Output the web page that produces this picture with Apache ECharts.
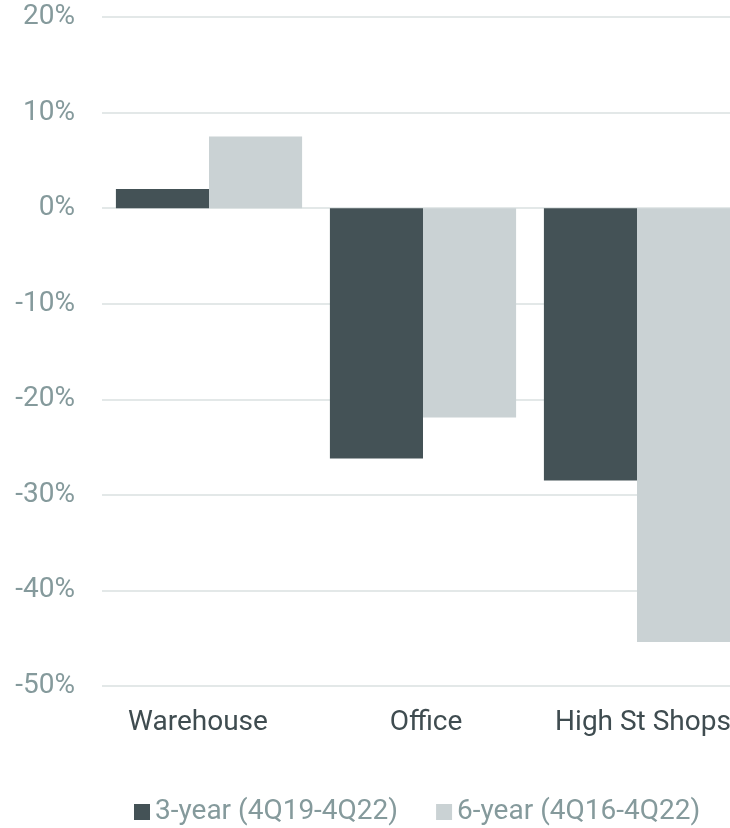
<!DOCTYPE html>
<html lang="en">
<head>
    <meta charset="UTF-8">
    <title>Capital value change by sector</title>
    <script src="https://cdn.jsdelivr.net/npm/echarts@6/dist/echarts.min.js"></script>
    <style>
        html, body { margin: 0; padding: 0; background: #fff; overflow: hidden; }
    </style>
</head>
<body>
    <!-- the chart runs past the right edge of the picture, so the div is wider than the window -->
    <div id="main" style="width: 744px; height: 828px"></div>
    <script>
        var categories = ['Warehouse', 'Office', 'High St Shops'];
        var seriesNames = ['3-year (4Q19-4Q22)', '6-year (4Q16-4Q22)'];
        var threeYear = [2.0, -26.2, -28.5];
        var sixYear = [7.5, -21.9, -45.4];

        var mychart = echarts.init(document.getElementById('main'));

        var font = 'Roboto';
        // small nudges so the category labels sit like the original
        var labelPad = [[0, 22, 0, 0], [0, 0, 0, 6], [0, 0, 0, 12]];

        option = {
            animation: false,
            grid: {
                left: 102,
                right: 0,
                top: 17,
                bottom: 142,
                containLabel: false
            },
            legend: {
                left: 134,
                bottom: 2,
                padding: 0,
                icon: 'rect',
                itemWidth: 16,
                itemHeight: 16,
                itemGap: 38,
                textStyle: {
                    color: '#859a9c',
                    fontSize: 28,
                    fontFamily: font
                },
                data: seriesNames
            },
            xAxis: {
                type: 'category',
                data: categories.map(function (c, i) {
                    return { value: c, textStyle: { padding: labelPad[i] } };
                }),
                axisLine: { show: false },
                axisTick: { show: false },
                axisLabel: {
                    interval: 0,
                    color: '#3f4c50',
                    fontSize: 28,
                    fontFamily: font,
                    margin: 23
                }
            },
            yAxis: {
                type: 'value',
                min: -50,
                max: 20,
                interval: 10,
                axisLabel: {
                    formatter: '{value}%',
                    color: '#859a9c',
                    fontSize: 28,
                    fontFamily: font,
                    margin: 27
                },
                splitLine: {
                    lineStyle: { color: '#e3e8e8', width: 2 }
                }
            },
            series: [{
                name: seriesNames[0],
                type: 'bar',
                data: threeYear,
                barGap: 0,
                barCategoryGap: '13%',
                itemStyle: { color: '#445256' }
            }, {
                name: seriesNames[1],
                type: 'bar',
                data: sixYear,
                itemStyle: { color: '#cad2d4' }
            }]
        };

        mychart.setOption(option);
    </script>
</body>
</html>
